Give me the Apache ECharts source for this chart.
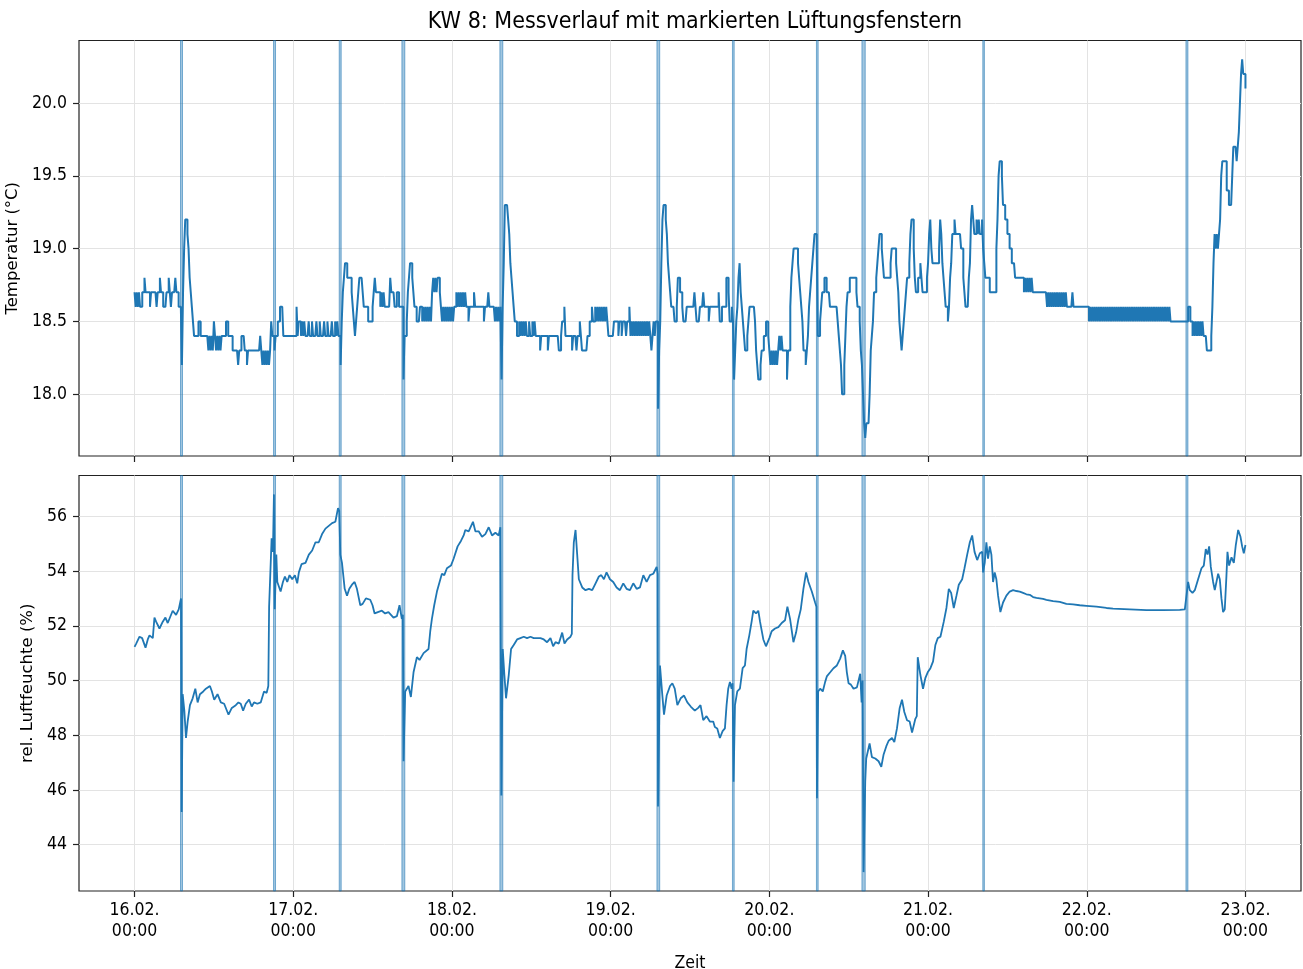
<!DOCTYPE html>
<html><head><meta charset="utf-8">
<script src="https://cdn.jsdelivr.net/npm/echarts@6/dist/echarts.min.js"></script>
<style>html,body{margin:0;padding:0;background:#fff}#c{width:1303px;height:969px}</style>
</head><body><div id="c"></div>
<script>
// ---- ticks / labels ----
const dayTickHours = [0, 24, 48, 72, 96, 120, 144, 168];
const dayLabels = ['16.02.\n00:00','17.02.\n00:00','18.02.\n00:00','19.02.\n00:00','20.02.\n00:00','21.02.\n00:00','22.02.\n00:00','23.02.\n00:00'];
const tempTicks = [18.0, 18.5, 19.0, 19.5, 20.0];
const humTicks = [44, 46, 48, 50, 52, 54, 56];
// ---- ventilation windows (hours since 16.02. 00:00) ----
const ventStart = [6.95, 21.02, 30.95, 40.43, 55.25, 79.0, 90.42, 103.12, 110.0, 128.28, 159.0];
const ventEnd   = [7.25, 21.32, 31.25, 40.87, 55.69, 79.42, 90.68, 103.38, 110.5, 128.52, 159.3];
// ---- temperature, 10-minute samples per day ----
const temp16 = [
18.7,18.6,18.7,18.6,18.7,18.6, 18.6,18.7,18.7,18.8,18.7,18.7, 18.7,18.7,18.6,18.7,18.7,18.7, 18.7,18.7,18.6,18.7,18.7,18.8,
18.7,18.7,18.6,18.6,18.6,18.7, 18.7,18.8,18.7,18.6,18.7,18.7, 18.7,18.8,18.7,18.7,18.6,18.6, 18.6,18.2,18.7,19.0,19.2,19.2,
19.1,19.0,18.8,18.7,18.6,18.5, 18.4,18.4,18.4,18.4,18.5,18.5, 18.4,18.4,18.4,18.4,18.4,18.4, 18.4,18.3,18.4,18.3,18.4,18.3,
18.5,18.4,18.3,18.4,18.3,18.4, 18.3,18.4,18.4,18.4,18.4,18.5, 18.5,18.4,18.4,18.4,18.4,18.3, 18.3,18.3,18.3,18.3,18.2,18.3,
18.3,18.4,18.4,18.4,18.3,18.3, 18.2,18.3,18.3,18.3,18.3,18.3, 18.3,18.3,18.3,18.3,18.3,18.3, 18.4,18.3,18.2,18.3,18.2,18.3,
18.2,18.3,18.2,18.3,18.5,18.4, 18.4,18.3,18.4,18.4,18.5,18.5, 18.6,18.6,18.6,18.4,18.4,18.4, 18.4,18.4,18.4,18.4,18.4,18.4];
const temp17 = [
18.4,18.4,18.4,18.6,18.4,18.5, 18.5,18.4,18.5,18.4,18.5,18.4, 18.4,18.4,18.5,18.4,18.4,18.5, 18.4,18.4,18.4,18.5,18.4,18.4,
18.5,18.4,18.4,18.4,18.5,18.4, 18.4,18.5,18.4,18.4,18.4,18.5, 18.4,18.4,18.5,18.4,18.5,18.4, 18.4,18.2,18.5,18.7,18.8,18.9,
18.9,18.8,18.8,18.8,18.8,18.7, 18.6,18.5,18.4,18.5,18.6,18.7, 18.8,18.8,18.8,18.7,18.6,18.6, 18.6,18.6,18.5,18.5,18.5,18.5,
18.6,18.7,18.8,18.7,18.7,18.7, 18.7,18.6,18.7,18.6,18.7,18.6, 18.6,18.6,18.6,18.6,18.8,18.7, 18.7,18.7,18.6,18.6,18.7,18.7,
18.6,18.6,18.6,18.6,18.1,18.4, 18.4,18.5,18.7,18.8,18.9,18.9, 18.8,18.7,18.6,18.6,18.5,18.5, 18.5,18.6,18.6,18.5,18.6,18.5,
18.6,18.5,18.6,18.5,18.6,18.5, 18.7,18.8,18.7,18.8,18.7,18.8, 18.8,18.7,18.6,18.5,18.6,18.5, 18.6,18.5,18.6,18.5,18.6,18.5];
const temp18 = [
18.6,18.5,18.6,18.6,18.7,18.6, 18.7,18.6,18.7,18.6,18.7,18.6, 18.7,18.6,18.6,18.5,18.6,18.6, 18.6,18.6,18.7,18.6,18.6,18.6,
18.6,18.6,18.6,18.6,18.6,18.5, 18.6,18.6,18.6,18.7,18.6,18.6, 18.6,18.6,18.6,18.5,18.6,18.5, 18.6,18.5,18.6,18.1,18.6,18.9,
19.3,19.3,19.3,19.2,19.1,18.9, 18.8,18.7,18.6,18.5,18.5,18.4, 18.4,18.5,18.4,18.5,18.4,18.5, 18.4,18.5,18.4,18.4,18.5,18.4,
18.4,18.5,18.4,18.5,18.4,18.4, 18.4,18.4,18.3,18.4,18.4,18.4, 18.4,18.4,18.4,18.3,18.4,18.4, 18.4,18.4,18.4,18.4,18.4,18.4,
18.4,18.3,18.3,18.4,18.5,18.5, 18.6,18.4,18.4,18.4,18.4,18.4, 18.4,18.3,18.4,18.4,18.4,18.3, 18.4,18.4,18.5,18.4,18.3,18.3,
18.3,18.3,18.3,18.4,18.4,18.5, 18.5,18.6,18.5,18.5,18.6,18.5, 18.6,18.5,18.6,18.5,18.6,18.5, 18.6,18.5,18.6,18.5,18.4,18.4];
const temp19 = [
18.4,18.4,18.4,18.5,18.5,18.5, 18.5,18.4,18.5,18.5,18.4,18.5, 18.5,18.5,18.4,18.5,18.5,18.6, 18.4,18.5,18.4,18.5,18.4,18.5,
18.4,18.5,18.4,18.5,18.4,18.5, 18.4,18.5,18.4,18.5,18.4,18.5, 18.4,18.3,18.4,18.5,18.4,18.5, 18.5,17.9,18.3,18.5,18.9,19.2,
19.3,19.3,19.2,19.1,18.9,18.8, 18.7,18.6,18.6,18.6,18.5,18.5, 18.6,18.8,18.8,18.7,18.7,18.6, 18.5,18.5,18.5,18.6,18.6,18.6,
18.6,18.6,18.6,18.6,18.7,18.6, 18.5,18.5,18.5,18.6,18.6,18.6, 18.7,18.6,18.6,18.6,18.6,18.5, 18.6,18.6,18.6,18.6,18.6,18.6,
18.6,18.6,18.7,18.5,18.5,18.6, 18.6,18.6,18.6,18.8,18.8,18.7, 18.5,18.5,18.6,18.5,18.1,18.3, 18.5,18.6,18.8,18.9,18.7,18.6,
18.5,18.4,18.3,18.3,18.4,18.5, 18.6,18.6,18.6,18.6,18.6,18.5, 18.3,18.2,18.1,18.1,18.2,18.3, 18.3,18.4,18.4,18.5,18.5,18.4];
const temp20 = [
18.3,18.2,18.3,18.2,18.3,18.2, 18.3,18.2,18.3,18.4,18.3,18.4, 18.3,18.3,18.3,18.3,18.1,18.3, 18.3,18.6,18.8,18.9,19.0,19.0,
19.0,19.0,18.9,18.8,18.7,18.6, 18.5,18.3,18.3,18.2,18.3,18.4, 18.6,18.7,18.8,18.9,19.0,19.1, 19.1,19.0,18.4,18.4,18.5,18.6,
18.7,18.7,18.8,18.8,18.7,18.7, 18.7,18.6,18.6,18.6,18.6,18.6, 18.6,18.6,18.5,18.4,18.3,18.2, 18.0,18.0,18.2,18.4,18.6,18.7,
18.7,18.8,18.8,18.8,18.8,18.8, 18.8,18.7,18.6,18.6,18.5,18.3, 18.2,18.0,17.8,17.7,17.8,17.8, 17.8,18.0,18.3,18.4,18.5,18.7,
18.7,18.8,18.9,19.0,19.1,19.1, 19.0,18.9,18.8,18.8,18.8,18.8, 18.8,18.8,18.9,19.0,19.0,19.0, 19.0,18.9,18.8,18.7,18.5,18.4,
18.3,18.4,18.5,18.6,18.7,18.8, 18.8,18.9,19.1,19.2,19.2,19.0, 18.8,18.7,18.7,18.8,18.8,18.9, 18.8,18.7,18.7,18.7,18.7,18.8];
const temp21 = [
18.9,19.1,19.2,19.0,18.9,18.9, 18.9,18.9,18.9,18.9,19.0,19.2, 19.1,18.9,18.8,18.7,18.6,18.6, 18.5,18.6,18.8,18.9,19.1,19.1,
19.2,19.1,19.1,19.1,19.1,19.1, 19.0,19.0,18.8,18.7,18.6,18.6, 18.6,18.8,18.9,19.2,19.3,19.2, 19.1,19.1,19.2,19.1,19.2,19.1,
19.1,19.2,19.0,18.9,18.8,18.8, 18.8,18.8,18.7,18.7,18.7,18.7, 18.7,18.7,19.0,19.2,19.5,19.6, 19.6,19.5,19.3,19.3,19.2,19.2,
19.1,19.1,19.0,19.0,18.9,18.9, 18.9,18.8,18.8,18.8,18.8,18.8, 18.8,18.8,18.8,18.7,18.8,18.7, 18.8,18.7,18.8,18.7,18.8,18.7,
18.7,18.7,18.7,18.7,18.7,18.7, 18.7,18.7,18.7,18.7,18.7,18.7, 18.6,18.7,18.6,18.7,18.6,18.7, 18.6,18.7,18.6,18.7,18.6,18.7,
18.6,18.7,18.6,18.7,18.6,18.7, 18.6,18.6,18.6,18.6,18.6,18.7, 18.6,18.6,18.6,18.6,18.6,18.6, 18.6,18.6,18.6,18.6,18.6,18.6];
const temp22 = [
18.6,18.6,18.5,18.6,18.5,18.6, 18.5,18.6,18.5,18.6,18.5,18.6, 18.5,18.6,18.5,18.6,18.5,18.6, 18.5,18.6,18.5,18.6,18.5,18.6,
18.5,18.6,18.5,18.6,18.5,18.6, 18.5,18.6,18.5,18.6,18.5,18.6, 18.5,18.6,18.5,18.6,18.5,18.6, 18.5,18.6,18.5,18.6,18.5,18.6,
18.5,18.6,18.5,18.6,18.5,18.6, 18.5,18.6,18.5,18.6,18.5,18.6, 18.5,18.6,18.5,18.6,18.5,18.6, 18.5,18.6,18.5,18.6,18.5,18.6,
18.5,18.6,18.5,18.6,18.5,18.5, 18.5,18.5,18.5,18.5,18.5,18.5, 18.5,18.5,18.5,18.5,18.5,18.5, 18.5,18.5,18.6,18.6,18.5,18.5,
18.4,18.5,18.4,18.5,18.4,18.5, 18.4,18.5,18.4,18.5,18.4,18.4, 18.4,18.3,18.3,18.3,18.3,18.4, 18.6,18.9,19.1,19.0,19.1,19.0,
19.1,19.2,19.5,19.6,19.6,19.6, 19.6,19.4,19.4,19.3,19.3,19.3, 19.5,19.7,19.7,19.7,19.6,19.7, 19.8,20.0,20.2,20.3,20.2,20.2];
const tempLast = 20.1;
// ---- relative humidity [hours, %] ----
const humidity = [
[0,51.23],[0.25,51.35],[0.75,51.6],[1.15,51.55],[1.66,51.2],[2.0,51.5],[2.26,51.65],[2.76,51.55],[3.01,52.3],[3.26,52.15],[3.77,51.9],[4.27,52.15],[4.67,52.3],[5.02,52.1],[5.77,52.55],[6.28,52.4],[6.68,52.6],[7.03,53.0],[7.13,45.2],[7.28,49.5],[7.53,48.9],[7.78,47.9],[8.03,48.5],[8.38,49.1],[8.79,49.35],[9.19,49.7],[9.54,49.2],[9.89,49.5],[10.39,49.6],[10.79,49.7],[11.4,49.8],[11.7,49.6],[12.05,49.3],[12.55,49.5],[13.05,49.2],[13.55,49.15],[14.21,48.75],[14.71,49.0],[15.31,49.1],[15.71,49.2],[16.06,49.15],[16.42,48.9],[16.82,49.15],[17.32,49.3],[17.72,49.05],[18.07,49.2],[18.57,49.15],[19.08,49.2],[19.58,49.6],[19.98,49.55],[20.23,49.8],[20.35,52.7],[20.5,52.75],[20.73,55.2],[20.93,54.7],[21.08,56.8],[21.2,52.6],[21.44,54.6],[21.59,53.6],[22.09,53.25],[22.44,53.6],[22.74,53.8],[23.09,53.6],[23.44,53.85],[23.85,53.7],
[24.25,53.85],[24.6,53.55],[24.85,53.95],[25.25,54.25],[25.85,54.3],[26.36,54.6],[26.86,54.75],[27.36,55.05],[27.86,55.05],[28.36,55.35],[28.87,55.55],[29.37,55.65],[29.87,55.75],[30.37,55.8],[30.77,56.3],[30.95,56.2],[31.12,54.6],[31.37,54.3],[31.78,53.35],[32.13,53.1],[32.48,53.35],[32.88,53.5],[33.28,53.6],[33.63,53.35],[34.14,52.75],[34.49,52.8],[34.99,53.0],[35.64,52.95],[35.99,52.75],[36.3,52.45],[36.8,52.5],[37.4,52.55],[37.9,52.45],[38.4,52.5],[39.16,52.3],[39.67,52.35],[40.07,52.75],[40.42,52.25],[40.58,52.4],[40.68,47.05],[40.93,49.6],[41.18,49.7],[41.43,49.8],[41.79,49.4],[42.19,50.3],[42.7,50.85],[43.1,50.75],[43.71,51.0],[44.46,51.15],[44.72,51.8],[44.97,52.25],[45.32,52.75],[45.73,53.25],[46.13,53.6],[46.48,53.9],[46.84,53.85],[47.24,54.1],[47.85,54.2],
[48.25,54.45],[48.86,54.9],[49.36,55.1],[49.77,55.3],[50.02,55.5],[50.53,55.45],[51.18,55.8],[51.54,55.45],[52.04,55.45],[52.55,55.25],[53.05,55.35],[53.56,55.6],[54.06,55.3],[54.57,55.4],[55.07,55.3],[55.32,55.6],[55.47,45.8],[55.68,51.15],[55.93,50.2],[56.18,49.35],[56.59,50.2],[56.94,51.15],[57.34,51.3],[57.85,51.5],[58.35,51.55],[58.86,51.6],[59.36,51.55],[59.87,51.6],[60.37,51.55],[60.88,51.55],[61.38,51.55],[61.89,51.5],[62.39,51.4],[62.9,51.55],[63.3,51.25],[63.66,51.4],[64.16,51.35],[64.67,51.75],[65.02,51.35],[65.42,51.5],[65.93,51.6],[66.13,51.7],[66.23,53.85],[66.43,55.05],[66.69,55.5],[66.94,54.6],[67.19,53.7],[67.7,53.4],[68.2,53.3],[68.71,53.35],[69.21,53.3],[69.72,53.55],[70.22,53.8],[70.58,53.85],[70.98,53.7],[71.38,53.95],[71.89,53.7],
[72.39,53.6],[72.9,53.4],[73.4,53.3],[73.91,53.55],[74.41,53.35],[74.92,53.3],[75.42,53.55],[75.93,53.35],[76.43,53.4],[76.94,53.85],[77.44,53.6],[77.95,53.85],[78.45,53.9],[78.96,54.15],[79.11,53.9],[79.16,45.4],[79.46,50.55],[79.82,49.45],[80.07,48.75],[80.47,49.45],[80.98,49.8],[81.33,49.9],[81.69,49.7],[82.09,49.1],[82.59,49.35],[83.1,49.45],[83.6,49.2],[84.11,49.05],[84.73,48.9],[85.24,49.0],[85.59,49.1],[86.0,48.55],[86.5,48.7],[87.0,48.5],[87.51,48.5],[87.76,48.3],[88.12,48.25],[88.52,47.9],[88.93,48.15],[89.28,48.25],[89.53,49.1],[89.78,49.7],[90.04,49.95],[90.29,49.7],[90.44,49.9],[90.59,46.3],[90.8,49.1],[91.15,49.6],[91.55,49.7],[91.96,50.45],[92.31,50.55],[92.56,51.15],[92.97,51.65],[93.32,52.15],[93.57,52.55],[93.98,52.45],[94.33,52.55],[94.59,52.15],[95.09,51.5],[95.49,51.25],
[96.0,51.55],[96.35,51.8],[96.86,51.9],[97.36,51.95],[97.87,52.1],[98.37,52.2],[98.73,52.7],[99.13,52.25],[99.64,51.4],[100.04,51.75],[100.4,52.25],[100.75,52.6],[101.15,53.35],[101.56,53.95],[101.91,53.6],[102.42,53.25],[102.92,52.85],[103.12,52.7],[103.2,45.7],[103.38,49.6],[103.68,49.7],[104.08,49.6],[104.44,49.95],[104.69,50.15],[105.2,50.3],[105.7,50.45],[106.21,50.55],[106.71,50.8],[107.12,51.1],[107.47,50.9],[107.72,50.3],[107.98,49.9],[108.33,49.85],[108.73,49.7],[109.24,49.75],[109.74,50.25],[109.95,49.2],[110.1,50.0],[110.25,43.0],[110.5,46.3],[110.65,47.15],[110.86,47.15],[111.16,47.7],[111.51,47.2],[112.02,47.15],[112.52,47.05],[112.93,46.85],[113.28,47.3],[113.69,47.6],[114.04,47.8],[114.55,47.9],[114.9,47.75],[115.3,48.25],[115.71,49.0],[116.06,49.3],[116.41,48.85],[116.82,48.55],[117.22,48.5],[117.58,48.1],[118.08,48.6],[118.3,48.7],[118.44,50.85],[118.84,50.2],[119.24,49.7],[119.6,50.1],[119.95,50.3],
[120.36,50.45],[120.76,50.7],[121.11,51.3],[121.47,51.55],[121.87,51.6],[122.38,52.15],[122.78,52.65],[123.14,53.35],[123.49,53.2],[123.89,52.65],[124.3,53.1],[124.65,53.5],[125.16,53.7],[125.51,54.1],[125.92,54.6],[126.32,55.05],[126.67,55.3],[127.03,54.7],[127.43,54.4],[127.83,54.65],[128.19,54.7],[128.32,53.95],[128.57,54.3],[128.82,55.05],[129.07,54.45],[129.33,54.9],[129.58,54.6],[129.83,53.6],[130.08,53.95],[130.33,53.7],[130.59,53.1],[130.94,52.5],[131.34,52.85],[131.85,53.1],[132.35,53.25],[132.86,53.3],[133.36,53.27],[133.86,53.25],[134.37,53.2],[134.87,53.15],[135.38,53.13],[135.88,53.05],[136.39,53.02],[136.89,53.0],[137.39,52.98],[137.9,52.95],[138.91,52.9],[139.92,52.87],[140.92,52.8],[141.93,52.78],[142.94,52.75],[143.95,52.73],
[145.46,52.7],[146.98,52.65],[147.98,52.63],[150.5,52.6],[153.03,52.57],[155.55,52.57],[158.07,52.58],[158.83,52.6],[159.08,52.6],[159.33,53.6],[159.58,53.3],[159.99,53.2],[160.34,53.3],[160.84,53.7],[161.35,54.1],[161.7,54.2],[162.0,54.8],[162.26,54.6],[162.51,54.9],[162.76,54.15],[163.11,53.6],[163.36,53.3],[163.62,53.35],[163.87,53.9],[164.12,53.7],[164.37,53.0],[164.62,52.5],[164.87,52.6],[165.13,53.85],[165.28,54.7],[165.53,54.2],[165.89,54.5],[166.24,54.3],[166.54,54.95],[166.9,55.5],[167.25,55.25],[167.5,54.9],[167.75,54.65],[168.0,54.95]];

// ---- build series data ----
const tempDays = [temp16, temp17, temp18, temp19, temp20, temp21, temp22];
const tempData = [];
tempDays.forEach((arr, d) => arr.forEach((v, i) => tempData.push([d * 24 + i / 6, v])));
tempData.push([168, tempLast]);

const ventAreas = ventStart.map((s, i) => [{ xAxis: s }, { xAxis: ventEnd[i] }]);
const FC = '"DejaVu Sans Condensed","Liberation Sans Narrow","DejaVu Sans",sans-serif';
const FR = '"DejaVu Sans",sans-serif';
const BLUE = '#1f77b4';
const gridLine = { show: true, lineStyle: { color: '#e3e3e3', width: 1 } };
const ventStyle = { color: 'rgba(31,119,180,0.42)', borderColor: 'rgba(31,119,180,0.55)', borderWidth: 1 };

function xAxisCfg(idx, labels) {
  return {
    type: 'value', gridIndex: idx, min: -8.4, max: 176.4,
    axisLine: { show: false, onZero: false },
    axisTick: { show: true, customValues: dayTickHours, length: 6, lineStyle: { color: '#222', width: 1.2 } },
    axisLabel: {
      show: labels, customValues: dayTickHours, fontFamily: FC, fontSize: 17.5, color: '#000',
      lineHeight: 21, margin: 9,
      formatter: v => dayLabels[dayTickHours.indexOf(v)] || ''
    },
    splitLine: gridLine
  };
}
function yAxisCfg(idx, min, max, ticks, name, gap, fmt) {
  return {
    type: 'value', gridIndex: idx, min: min, max: max,
    axisLine: { show: false, onZero: false },
    axisTick: { show: true, customValues: ticks, length: 6, lineStyle: { color: '#222', width: 1.2 } },
    axisLabel: { customValues: ticks, fontFamily: FC, fontSize: 17.5, color: '#000', margin: 12, formatter: fmt },
    splitLine: gridLine,
    name: name, nameLocation: 'middle', nameGap: gap, nameRotate: 90,
    nameTextStyle: { fontFamily: FR, fontSize: 16.5, color: '#000' }
  };
}

const chart = echarts.init(document.getElementById('c'), null, { renderer: 'canvas' });
chart.setOption({
  animation: false,
  backgroundColor: '#fff',
  title: {
    text: 'KW 8: Messverlauf mit markierten Lüftungsfenstern',
    left: 690, top: 6, textAlign: 'center',
    textStyle: { fontFamily: FC, fontSize: 23, fontWeight: 'normal', color: '#000' }
  },
  grid: [
    { left: 79, top: 40.5, width: 1222, height: 415.5, outerBoundsMode: 'none', containLabel: false, show: true, borderColor: '#222', borderWidth: 1.2, backgroundColor: 'rgba(0,0,0,0)' },
    { left: 79, top: 475.5, width: 1222, height: 415.5, outerBoundsMode: 'none', containLabel: false, show: true, borderColor: '#222', borderWidth: 1.2, backgroundColor: 'rgba(0,0,0,0)' }
  ],
  xAxis: [
    xAxisCfg(0, false),
    Object.assign(xAxisCfg(1, true), {
      name: 'Zeit', nameLocation: 'middle', nameGap: 63,
      nameTextStyle: { fontFamily: FC, fontSize: 17.5, color: '#000' }
    })
  ],
  yAxis: [
    yAxisCfg(0, 17.575, 20.43, tempTicks, 'Temperatur (°C)', 53, v => v.toFixed(1)),
    yAxisCfg(1, 42.31, 57.49, humTicks, 'rel. Luftfeuchte (%)', 34, v => String(v))
  ],
  series: [
    {
      name: 'Temperatur', type: 'line', xAxisIndex: 0, yAxisIndex: 0, data: tempData,
      step: 'end', showSymbol: false, symbol: 'none', lineStyle: { color: BLUE, width: 2 },
      markArea: { silent: true, itemStyle: ventStyle, data: ventAreas }
    },
    {
      name: 'Luftfeuchte', type: 'line', xAxisIndex: 1, yAxisIndex: 1, data: humidity,
      showSymbol: false, symbol: 'none', lineStyle: { color: BLUE, width: 1.8 },
      markArea: { silent: true, itemStyle: ventStyle, data: ventAreas }
    }
  ]
});
</script></body></html>
